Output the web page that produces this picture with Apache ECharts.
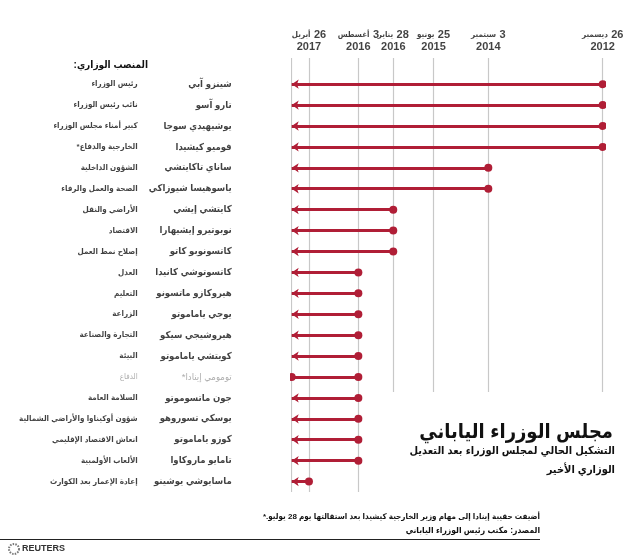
<!DOCTYPE html>
<html>
<head>
<meta charset="utf-8">
<script src="https://cdn.jsdelivr.net/npm/echarts@6/dist/echarts.min.js"></script>
<style>
  html, body { margin: 0; padding: 0; background: #fff; }
  #chart { width: 628px; height: 557px; }
</style>
</head>
<body>
<div id="chart" dir="rtl"></div>
<script>
// ---- data ----
const names = [
  'شينزو آبي', 'تارو آسو', 'يوشيهيدي سوجا', 'فوميو كيشيدا',
  'ساناي تاكايتشي', 'ياسوهيسا شيوزاكي', 'كايتشي إيشي', 'نوبوتيرو إيشيهارا', 'كاتسونوبو كاتو',
  'كاتسوتوشي كانيدا', 'هيروكازو ماتسونو', 'يوجي ياماموتو', 'هيروشيجي سيكو', 'كويتشي ياماموتو',
  'تومومي إينادا*', 'جون ماتسوموتو', 'يوسكي تسوروهو', 'كوزو ياماموتو', 'تامايو ماروكاوا', 'ماسايوشي يوشينو'
];
const positions = [
  'رئيس الوزراء', 'نائب رئيس الوزراء', 'كبير أمناء مجلس الوزراء', 'الخارجية والدفاع*',
  'الشؤون الداخلية', 'الصحة والعمل والرفاء', 'الأراضي والنقل', 'الاقتصاد', 'إصلاح نمط العمل',
  'العدل', 'التعليم', 'الزراعة', 'التجارة والصناعة', 'البيئة',
  'الدفاع', 'السلامة العامة', 'شؤون أوكيناوا والأراضي الشمالية', 'انعاش الاقتصاد الإقليمي', 'الألعاب الأولمبية', 'إعادة الإعمار بعد الكوارث'
];
const startDates = [
  '2012-12-26', '2012-12-26', '2012-12-26', '2012-12-26',
  '2014-09-03', '2014-09-03', '2016-01-28', '2016-01-28', '2016-01-28',
  '2016-08-03', '2016-08-03', '2016-08-03', '2016-08-03', '2016-08-03',
  '2016-08-03', '2016-08-03', '2016-08-03', '2016-08-03', '2016-08-03', '2017-04-26'
];
const inOffice = [
  true, true, true, true, true, true, true, true, true, true,
  true, true, true, true, false, true, true, true, true, true
];
const endDate = '2017-07-28';
const tickDates = ['2017-07-28', '2017-04-26', '2016-08-03', '2016-01-28', '2015-06-25', '2014-09-03', '2012-12-26'];
const tickDays = ['', 'أبريل', 'أغسطس', 'يناير', 'يونيو', 'سبتمبر', 'ديسمبر'];
const tickDayNums = ['', '26', '3', '28', '25', '3', '26'];
const tickYears = ['', '2017', '2016', '2016', '2015', '2014', '2012'];

// ---- build ----
const ts = s => Date.parse(s + 'T00:00:00Z');
const RED = '#b01e36';
const FONT = 'Arial, "DejaVu Sans Condensed", "DejaVu Sans", sans-serif';
const Y_TOP = -1.25, Y_BOT = 19.5, Y_LABEL = -2.05;

const active = [], resigned = [];
startDates.forEach((d, i) => {
  const item = { coords: [[ts(endDate), i], [ts(d), i]] };
  (inOffice[i] ? active : resigned).push(item);
});

const greyLabel = { color: '#9a9a9a', fontWeight: 'normal' };
const nameData = names.map((n, i) => inOffice[i]
  ? { value: [ts(endDate), i] } : { value: [ts(endDate), i], label: greyLabel });
const posData = positions.map((p, i) => inOffice[i]
  ? { value: [ts(endDate), i] } : { value: [ts(endDate), i], label: greyLabel });

const chart = echarts.init(document.getElementById('chart'), null, { renderer: 'canvas' });
chart.setOption({
  animation: false,
  backgroundColor: '#fff',
  textStyle: { fontFamily: FONT },
  grid: { left: 291.7, right: 25.3, top: 58, bottom: 65 },
  xAxis: { type: 'time', inverse: true, min: ts('2012-12-26'), max: ts(endDate), show: false },
  yAxis: { type: 'value', inverse: true, min: Y_TOP, max: Y_BOT, show: false },
  series: [
    {
      type: 'lines', coordinateSystem: 'cartesian2d', silent: true, z: 1,
      symbol: 'none',
      lineStyle: { color: '#c8c8c8', width: 1.2, opacity: 1 },
      data: tickDates.map(d => ({ coords: [[ts(d), Y_TOP], [ts(d), Y_BOT]] }))
    },
    {
      type: 'lines', coordinateSystem: 'cartesian2d', silent: true, z: 3,
      symbol: ['arrow', 'circle'], symbolSize: [7, 8],
      lineStyle: { color: RED, width: 3, opacity: 1 },
      data: active
    },
    {
      type: 'lines', coordinateSystem: 'cartesian2d', silent: true, z: 3,
      symbol: ['circle', 'circle'], symbolSize: [8, 8],
      lineStyle: { color: RED, width: 3, opacity: 1 },
      data: resigned
    },
    {
      type: 'scatter', symbolSize: 0, clip: false, silent: true,
      label: {
        show: true, position: 'left', distance: 60,
        formatter: p => names[p.dataIndex],
        fontSize: 9.5, fontWeight: 'bold', color: '#111', fontFamily: FONT
      },
      data: nameData
    },
    {
      type: 'scatter', symbolSize: 0, clip: false, silent: true,
      label: {
        show: true, position: 'left', distance: 154,
        formatter: p => positions[p.dataIndex],
        fontSize: 8, fontWeight: 'bold', color: '#111', fontFamily: FONT
      },
      data: posData
    },
    {
      type: 'scatter', symbolSize: 0, clip: false, silent: true,
      label: {
        show: true, position: 'inside', align: 'center',
        formatter: p => '{d|' + tickDays[p.dataIndex] + '} {n|' + tickDayNums[p.dataIndex] + '}\n{n|' + tickYears[p.dataIndex] + '}',
        rich: {
          d: { fontSize: 8, fontWeight: 'bold', color: '#111', fontFamily: FONT, lineHeight: 12 },
          n: { fontSize: 11, fontWeight: 'bold', color: '#111', fontFamily: FONT, lineHeight: 12, align: 'center' }
        }
      },
      data: tickDates.map(d => [ts(d), Y_LABEL])
    }
  ],
  graphic: [
    { type: 'rect', z: 50, shape: { x: 375, y: 392, width: 253, height: 106 }, style: { fill: '#fff' } },
    { type: 'text', z: 60, x: 148, y: 65, style: { text: 'المنصب الوزاري:', font: 'bold 10px ' + FONT, fill: '#111', align: 'right', verticalAlign: 'middle' } },
    { type: 'text', z: 60, x: 613, y: 432, style: { text: 'مجلس الوزراء الياباني', font: 'bold 20px ' + FONT, fill: '#111', align: 'right', verticalAlign: 'middle' } },
    { type: 'text', z: 60, x: 615, y: 451, style: { text: 'التشكيل الحالي لمجلس الوزراء بعد التعديل', font: 'bold 11px ' + FONT, fill: '#111', align: 'right', verticalAlign: 'middle' } },
    { type: 'text', z: 60, x: 615, y: 470, style: { text: 'الوزاري الأخير', font: 'bold 11px ' + FONT, fill: '#111', align: 'right', verticalAlign: 'middle' } },
    { type: 'text', z: 60, x: 540, y: 517, style: { text: 'أضيفت حقيبة إينادا إلى مهام وزير الخارجية كيشيدا بعد استقالتها يوم 28 يوليو.*', font: 'bold 8px ' + FONT, fill: '#111', align: 'right', verticalAlign: 'middle' } },
    { type: 'text', z: 60, x: 540, y: 531, style: { text: 'المصدر: مكتب رئيس الوزراء الياباني', font: 'bold 8.5px ' + FONT, fill: '#111', align: 'right', verticalAlign: 'middle' } },
    { type: 'line', z: 60, shape: { x1: 0, y1: 539.5, x2: 540, y2: 539.5 }, style: { stroke: '#222', lineWidth: 1 } },
    { type: 'circle', z: 60, shape: { cx: 14, cy: 549, r: 5 }, style: { fill: '#fff', stroke: '#777', lineWidth: 2, lineDash: [1.5, 1.2] } },
    { type: 'text', z: 60, x: 22, y: 549, style: { text: 'REUTERS', font: 'bold 9px ' + FONT, fill: '#333', align: 'left', verticalAlign: 'middle' } }
  ]
});
</script>
</body>
</html>
